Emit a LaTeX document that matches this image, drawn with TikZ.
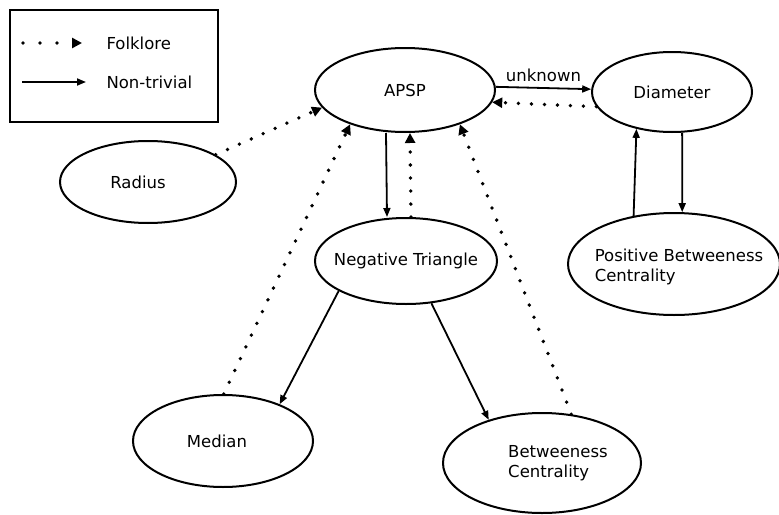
\documentclass[tikz,border=0pt]{standalone}
\usepackage{fontspec}
\setmainfont{DejaVu Sans}
\usetikzlibrary{shapes.geometric,arrows.meta}
\begin{document}
\begin{tikzpicture}
[x=1pt, y=-1pt, every node/.style={font=\fontsize{16.5}{20}\selectfont},
 blob/.style={draw, ellipse, line width=2pt, inner sep=0pt},
 folk/.style={line width=3.8pt, line cap=round, dash pattern=on 0pt off 13pt, -{Triangle[length=10pt,width=10pt]}},
 hard/.style={line width=1.8pt, -{Triangle[length=9pt,width=7pt]}}]
\useasboundingbox (0,0) rectangle (779,514);
% legend
\draw[line width=2pt] (10,10) rectangle (218,122);
\coordinate (f0) at (23,43); \coordinate (f1) at (82,43);
\draw[folk, dash pattern=on 0pt off 17pt] (f0) -- (f1);
\node[anchor=west] (folklore) at (103,43) {Folklore};
\coordinate (n0) at (22,82); \coordinate (n1) at (86,82);
\draw[hard] (n0) -- (n1);
\node[anchor=west] (nontrivial) at (103,82) {Non-trivial};
% problems
\node[blob, minimum width=180pt, minimum height=84pt, label={center:APSP}] (apsp) at (405,90) {};
\node[blob, minimum width=160pt, minimum height=80pt, label={center:Diameter}] (diam) at (672,92) {};
\node[blob, minimum width=176pt, minimum height=82pt, label={[xshift=-10pt]center:Radius}] (radius) at (148,182) {};
\node[blob, minimum width=182pt, minimum height=86pt, label={center:Negative Triangle}] (nt) at (406,261) {};
\node[blob, minimum width=212pt, minimum height=102pt, label={[align=left, xshift=5pt, yshift=-3pt]center:{Positive Betweeness\\Centrality}}] (pbc) at (674,264) {};
\node[blob, minimum width=180pt, minimum height=92pt, label={[xshift=-6pt]center:Median}] (median) at (223,441) {};
\node[blob, minimum width=198pt, minimum height=100pt, label={[align=left, xshift=16pt]center:{Betweeness\\Centrality}}] (bc) at (542,463) {};
% folklore reductions
\draw[folk] (radius.22) -- (apsp.192);
\draw[folk] (median.89) -- (apsp.212);
\draw[folk] ([xshift=5pt]nt.north) -- ([xshift=5pt]apsp.south);
\draw[folk] (bc.59) -- (apsp.328);
\draw[folk] (diam.191) -- (apsp.352);
% non-trivial reductions
\draw[hard] (apsp.2) -- node[above, yshift=2pt]{unknown} (diam.178);
\draw[hard] ([xshift=-19pt]apsp.south) -- ([xshift=-19pt]nt.north);
\draw[hard] (nt.204) -- (median.33);
\draw[hard] (nt.301) -- (bc.141);
\draw[hard] (pbc.130) -- (diam.226);
\draw[hard] (diam.284) -- (pbc.81);
\end{tikzpicture}
\end{document}
